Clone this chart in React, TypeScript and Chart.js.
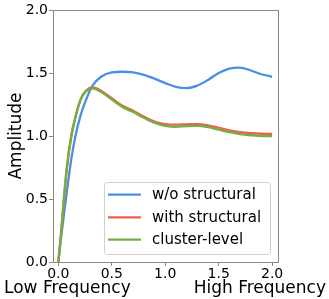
import React, { useEffect, useRef } from "react";
import { Chart, registerables } from "chart.js";

Chart.register(...registerables);

const xValues = [0, 0.025, 0.05, 0.08, 0.12, 0.16, 0.21, 0.26, 0.32, 0.4, 0.5, 0.6, 0.7, 0.8, 0.9, 1.0, 1.1, 1.2, 1.3, 1.4, 1.5, 1.6, 1.7, 1.8, 1.9, 2.0];
const woStructural = [0, 0.19, 0.36, 0.56, 0.81, 1.0, 1.17, 1.29, 1.4, 1.47, 1.505, 1.51, 1.505, 1.485, 1.455, 1.42, 1.39, 1.38, 1.4, 1.445, 1.5, 1.535, 1.543, 1.52, 1.49, 1.47];
const withStructural = [0, 0.22, 0.47, 0.74, 0.99, 1.15, 1.295, 1.36, 1.385, 1.36, 1.3, 1.24, 1.2, 1.155, 1.115, 1.095, 1.09, 1.093, 1.095, 1.085, 1.065, 1.045, 1.03, 1.022, 1.018, 1.017];
const clusterLevel = [0, 0.23, 0.49, 0.76, 1.0, 1.15, 1.29, 1.355, 1.378, 1.35, 1.29, 1.23, 1.19, 1.145, 1.105, 1.08, 1.073, 1.078, 1.08, 1.07, 1.05, 1.03, 1.015, 1.006, 1.0, 1.0];
const seriesLabels = ["w/o structural", "with structural", "cluster-level"];
const seriesColors = ["#4a90e2", "#f06050", "#72b043"];
const xTicks = [0, 0.5, 1.0, 1.5, 2.0];
const yTicks = [0, 0.5, 1.0, 1.5, 2.0];
const yTitle = "Amplitude";
const xLeftLabel = "Low Frequency";
const xRightLabel = "High Frequency";

const FONT = "'DejaVu Sans', sans-serif";

export default function App() {
  const ref = useRef<HTMLCanvasElement | null>(null);
  useEffect(() => {
    if (!ref.current) return;
    const series = [woStructural, withStructural, clusterLevel];
    const decor = {
      id: "decor",
      afterDraw(chart: any) {
        const ctx = chart.ctx;
        const a = chart.chartArea;
        ctx.save();
        ctx.strokeStyle = "#888";
        ctx.lineWidth = 1;
        ctx.strokeRect(Math.round(a.left) + 0.5, Math.round(a.top) + 0.5, Math.round(a.right - a.left), Math.round(a.bottom - a.top));
        // y title
        ctx.fillStyle = "#000";
        ctx.font = `17px ${FONT}`;
        ctx.textAlign = "center";
        ctx.textBaseline = "middle";
        ctx.translate(17, (a.top + a.bottom) / 2);
        ctx.rotate(-Math.PI / 2);
        ctx.fillText(yTitle, 0, 0);
        ctx.restore();
        ctx.save();
        ctx.fillStyle = "#000";
        ctx.font = `17px ${FONT}`;
        ctx.textBaseline = "alphabetic";
        ctx.textAlign = "left";
        ctx.fillText(xLeftLabel, 4, 293);
        ctx.textAlign = "right";
        ctx.fillText(xRightLabel, 326, 293);
        // legend
        const lx = 104.5, ly = 182.5, lw = 166, lh = 72, r = 3;
        ctx.beginPath();
        ctx.moveTo(lx + r, ly);
        ctx.arcTo(lx + lw, ly, lx + lw, ly + lh, r);
        ctx.arcTo(lx + lw, ly + lh, lx, ly + lh, r);
        ctx.arcTo(lx, ly + lh, lx, ly, r);
        ctx.arcTo(lx, ly, lx + lw, ly, r);
        ctx.closePath();
        ctx.fillStyle = "rgba(255,255,255,0.8)";
        ctx.fill();
        ctx.strokeStyle = "#d0d0d0";
        ctx.lineWidth = 1;
        ctx.stroke();
        const rows = [194.7, 217.3, 239.7];
        chart.data.datasets.forEach((ds: any, i: number) => {
          ctx.strokeStyle = ds.borderColor;
          ctx.lineWidth = 2.3;
          ctx.beginPath();
          ctx.moveTo(108, rows[i]);
          ctx.lineTo(141, rows[i]);
          ctx.stroke();
          ctx.fillStyle = "#000";
          ctx.font = `15px ${FONT}`;
          ctx.textAlign = "left";
          ctx.textBaseline = "middle";
          ctx.fillText(ds.label, 152, rows[i] + 0.5);
        });
        ctx.restore();
      },
    };
    const chart = new Chart(ref.current, {
      type: "line",
      data: {
        datasets: series.map((s, i) => ({
          label: seriesLabels[i],
          data: xValues.map((x, j) => ({ x, y: s[j] })),
          borderColor: seriesColors[i],
          backgroundColor: seriesColors[i],
          borderWidth: 2.3,
          pointRadius: 0,
          cubicInterpolationMode: "monotone" as const,
          fill: false,
          order: 3 - i,
        })),
      },
      options: {
        animation: false,
        responsive: false,
        layout: { padding: { top: 10, right: 51, left: 0, bottom: 0 } },
        plugins: { legend: { display: false }, tooltip: { enabled: false } },
        scales: {
          x: {
            type: "linear",
            min: -0.05,
            max: 2.055,
            afterBuildTicks: (s: any) => {
              s.ticks = xTicks.map((v) => ({ value: v }));
            },
            afterFit: (s: any) => {
              s.height = 37;
            },
            ticks: {
              callback: (v: any) => Number(v).toFixed(1),
              font: { family: FONT, size: 14 },
              color: "#000",
              padding: 0,
              maxRotation: 0,
              autoSkip: false,
            },
            grid: { drawOnChartArea: false, tickLength: 4, color: "#888" },
            border: { display: false },
          },
          y: {
            type: "linear",
            min: 0,
            max: 2,
            afterBuildTicks: (s: any) => {
              s.ticks = yTicks.map((v) => ({ value: v }));
            },
            afterFit: (s: any) => {
              s.width = 53;
            },
            ticks: {
              callback: (v: any) => Number(v).toFixed(1),
              font: { family: FONT, size: 14 },
              color: "#000",
              padding: 1,
              autoSkip: false,
            },
            grid: { drawOnChartArea: false, tickLength: 4, color: "#888" },
            border: { display: false },
          },
        },
      },
      plugins: [decor],
    });
    return () => chart.destroy();
  }, []);
  return (
    <div style={{ position: "fixed", left: 0, top: 0, width: 329, height: 299, background: "#fff" }}>
      <canvas ref={ref} width={329} height={299} />
    </div>
  );
}
